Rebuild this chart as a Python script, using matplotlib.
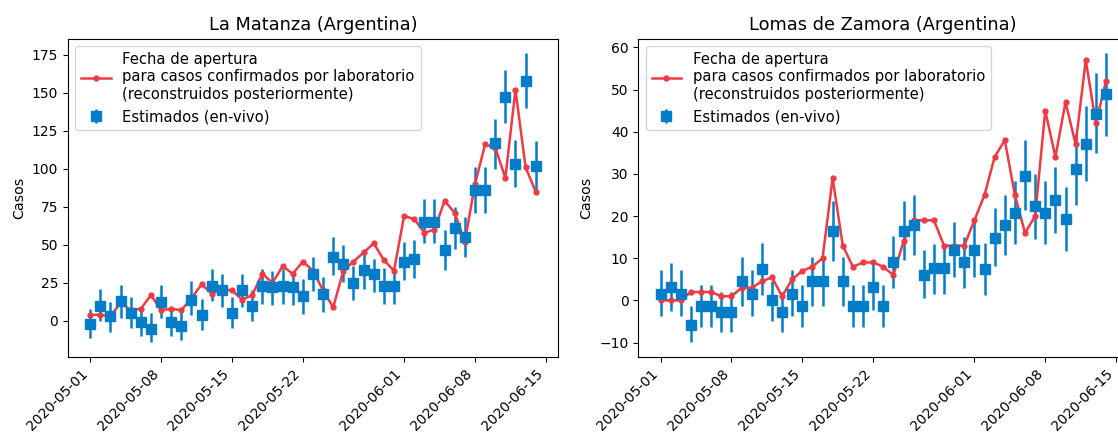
import numpy as np
import pandas as pd
import matplotlib
matplotlib.use('Agg')
from matplotlib import pyplot as plt
import matplotlib.dates as mdates

dates = pd.date_range('2020-05-01', '2020-06-14', freq='D')

# La Matanza
lm_fecha = [4, 4, 3, 12, 7, 8, 17, 7, 8, 7, 15, 24, 18, 21, 20, 14, 17, 31, 25, 36, 31, 39, 33, 20,
            9, 33, 39, 45, 51, 40, 33, 69, 67, 58, 60, 79, 71, 52, 90, 116, 114, 94, 152, 101, 85]
lm_est = [-2, 9.6, 3, 13, 5.5, -1, -5, 12.5, -0.7, -3.3, 14, 4, 22.8, 20, 5.5, 20, 9.6, 22.8, 22,
          22.8, 22, 16.2, 30.7, 17.5, 42, 37.7, 24.6, 33.3, 30.7, 22.8, 22.8, 38.8, 40.4, 65.1,
          65.1, 46.5, 61.4, 55.3, 86, 86, 116.7, 147.4, 103.5, 157.7, 102]
lm_low = [-11, 0, -7, 2, -4.5, -10, -14, 2, -10, -12.7, 3.7, -5.7, 13, 9, -4.4, 9, 0, 11.4, 10.5,
          11.4, 10.5, 4.8, 19.7, 6, 30, 25.7, 13.6, 21, 19, 11, 11, 26.8, 28, 51, 51, 33.8, 47.6,
          42, 71, 71, 100, 130, 88, 140, 85]
lm_high = [8, 21, 12.5, 23.5, 16, 8, 5, 23.5, 8, 7, 26, 14.7, 34.4, 31, 15.8, 31, 20, 34.4,
           33, 34.4, 33, 27.3, 42, 29, 55, 50, 36, 45, 41, 34.5, 34.5, 52, 53.5, 80, 80, 59.6, 75,
           68.4, 101, 101, 133, 165, 119, 176, 118]

# Lomas de Zamora
lz_fecha = [0, 0, 0, 2, 2, 2, 1, 1, 3, 3, 4.5, 5.5, 1, 5, 7, 8, 10, 29, 13, 8, 9, 9, 8, 6, 14, 19,
            19, 19, 13, 13, 13, 19, 25, 34, 38, 25, 16, 20, 45, 34, 47, 37, 57, 42, 52]
lz_est = [1.5, 3.1, 1.5, -5.8, -1.2, -1.2, -2.8, -2.8, 4.5, 1.5, 7.5, 0, -2.8, 1.6, -1.2, 4.5, 4.5,
          16.4, 4.5, -1.2, -1.2, 3.2, -1.2, 9.1, 16.4, 17.9, 6.1, 7.6, 7.6, 12, 9, 12, 7.4, 14.8,
          17.8, 20.7, 29.5, 22.3, 20.7, 23.8, 19.3, 31.1, 37, 44.2, 48.9]
lz_low = [-3.6, -2.4, -3.6, -9.9, -6.2, -6.2, -7.4, -7.4, -1.2, -3.6, 1.4, -4.9, -7.4, -3.6, -6.2,
          -1.2, -1.2, 9.4, -1.2, -6.2, -6.2, -2.2, -6.2, 3, 9.5, 10.8, 0.6, 1.6, 1.6, 5.5, 2.9,
          5.5, 1.4, 8.2, 10.8, 13.4, 21.5, 14.6, 13.4, 16, 11.8, 22.7, 28.2, 34.9, 38.9]
lz_high = [7.1, 8.8, 7.1, -1.4, 3.6, 3.6, 2.1, 2.1, 10.3, 7.1, 13.6, 4.7, 2.1, 7.1, 3.6, 10.3, 9.7,
           23.6, 10.3, 3.6, 3.6, 8.8, 3.6, 15.2, 23.5, 25, 12, 13.4, 13.4, 18.5, 15, 18.5, 13.6,
           21.9, 25, 28.2, 38, 30, 28.2, 31.6, 26.9, 39.6, 46, 53.9, 58.6]

titles = ['La Matanza (Argentina)', 'Lomas de Zamora (Argentina)']
series = [(lm_fecha, lm_est, lm_low, lm_high), (lz_fecha, lz_est, lz_low, lz_high)]

RED = '#ee3a44'
BLUE = '#047dc8'

figure = plt.figure(figsize=(11.18, 4.36), dpi=100)
positions = [[0.0608, 0.182, 0.4383, 0.729], [0.5709, 0.182, 0.4383, 0.729]]

for pos, title, (fecha, est, low, high) in zip(positions, titles, series):
    axes = figure.add_axes(pos)
    est = np.array(est)
    yerr = [est - np.array(low), np.array(high) - est]
    axes.errorbar(dates, est, yerr=yerr, fmt='s', color=BLUE, ms=7, elinewidth=1.8,
                  capsize=0, label='Estimados (en-vivo)')
    axes.plot(dates, fecha, '-o', color=RED, lw=1.8, ms=3.5,
              label='Fecha de apertura\npara casos confirmados por laboratorio\n'
                    '(reconstruidos posteriormente)')
    axes.set_title(title, size=12.8)
    axes.set_ylabel('Casos', size=10.3)
    axes.xaxis.set_major_locator(mdates.DayLocator(bymonthday=[1, 8, 15, 22]))
    axes.xaxis.set_major_formatter(mdates.DateFormatter('%Y-%m-%d'))
    plt.setp(axes.get_xticklabels(), rotation=45, ha='right')
    axes.legend(loc='upper left', fontsize=10.6)

figure.savefig('out.png', dpi=100)
